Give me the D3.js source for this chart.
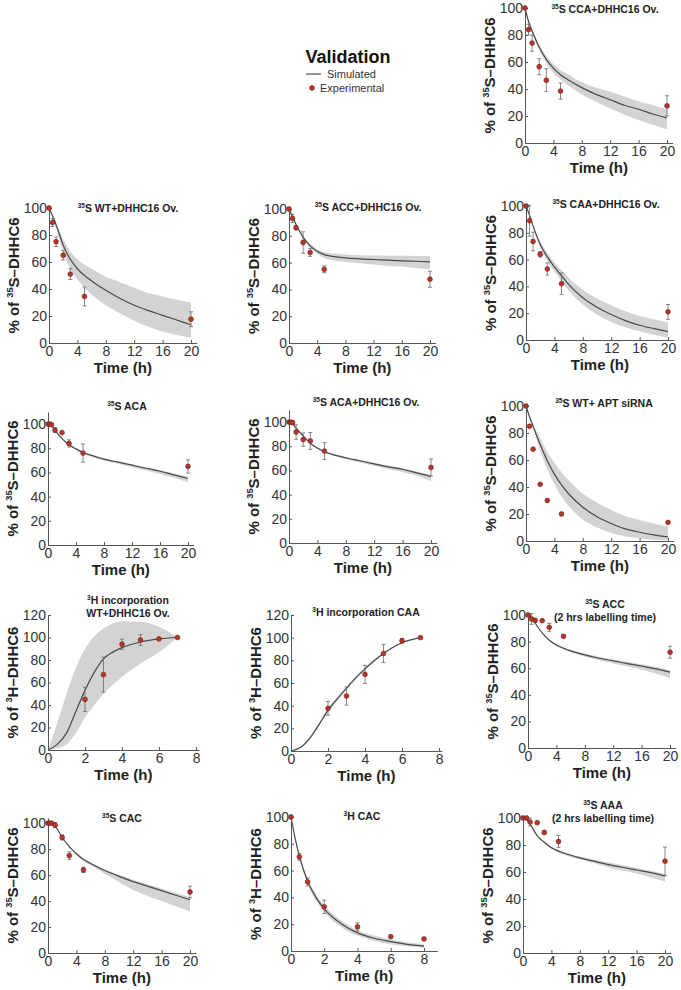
<!DOCTYPE html>
<html>
<head>
<meta charset="utf-8">
<script src="https://cdn.jsdelivr.net/npm/d3@7"></script>
<style>
  body { margin: 0; background: #fff; }
  svg { font-family: "Liberation Sans", Arial, Helvetica, sans-serif; }
</style>
</head>
<body>
<svg id="chart" width="681" height="990"></svg>
<script>
// ---- shared time grids ----
var simT20 = [0, 0.5, 1, 2, 3, 4, 5, 6, 8, 10, 12, 14, 16, 18, 20];
var expT7 = [0, 0.5, 1, 2, 3, 5, 20];
var expT8 = [0, 0.25, 0.5, 1, 2, 3, 5, 20];
var simT3H = [0, 0.5, 1, 1.5, 2, 2.5, 3, 3.5, 4, 5, 6, 7];
var expT3H = [2, 3, 4, 5, 6, 7];
var simT3Hc = [0, 0.25, 0.5, 1, 1.5, 2, 3, 4, 5, 6, 7, 8];
var expT3Hc = [0, 0.5, 1, 2, 4, 6, 8];

var xTicks20 = [0, 4, 8, 12, 16, 20];
var xTicks8 = [0, 2, 4, 6, 8];
var yTicks100 = [0, 20, 40, 60, 80, 100];
var yTicks120 = [0, 20, 40, 60, 80, 100, 120];

// ---- 35S CCA+DHHC16 Ov. ----
var ccaExp = [100, 84, 74, 56.5, 46.5, 38.5, 27.5];
var ccaErr = [0, 4, 6, 6, 8.5, 6, 7.5];
var ccaSim = [100, 90, 83, 71, 62, 55.5, 50.5, 47, 41, 36, 32, 28, 25, 21.5, 18.5];
var ccaLo  = [100, 89, 81.5, 69, 59, 52, 47, 43, 36, 30.5, 25.5, 21, 17, 13.5, 10];
var ccaHi  = [100, 91, 84.5, 73, 64.5, 58.5, 54, 51, 45, 41, 38, 34.5, 31, 28, 25];

// ---- 35S WT+DHHC16 Ov. ----
var wtExp = [100, 89.3, 75, 65, 51, 34.5, 17.6];
var wtErr = [0, 3, 3.5, 3.5, 4, 7, 5.5];
var wtSim = [100, 94, 87.5, 72.5, 62, 55, 50, 46, 39, 33, 28, 24, 20.5, 17, 13.5];
var wtLo  = [100, 93, 85, 67, 55, 47, 41, 36, 28, 22, 16.5, 12, 8.5, 6, 4];
var wtHi  = [100, 95, 89.5, 77, 68, 62, 58, 55, 49, 45, 41, 37, 34.5, 32, 30];

// ---- 35S ACC+DHHC16 Ov. ----
var accExp = [100, 93, 86, 75, 67.6, 55, 47.6];
var accErr = [0, 3, 1.5, 8, 3, 2.5, 6];
var accSim = [100, 94, 88.5, 79, 72.5, 68.5, 66, 64.8, 63.5, 62.8, 62.3, 61.8, 61.3, 61, 60.6];
var accLo  = [100, 93.5, 87.5, 78, 71, 66.5, 63.5, 62, 60.5, 59.5, 58.5, 57.5, 57, 56, 55];
var accHi  = [100, 94.5, 89.5, 80, 74, 70, 68, 67, 66, 65.5, 65.3, 65.2, 65.1, 65, 65];

// ---- 35S CAA+DHHC16 Ov. ----
var caaExp = [100, 89, 73.5, 64, 53, 42, 21];
var caaErr = [0, 11.5, 7, 2, 4.5, 8, 5.5];
var caaSim = [100, 93, 85, 71.5, 62, 54.5, 48, 41.5, 31.5, 24.5, 19, 14.5, 11, 8.5, 6.3];
var caaLo  = [100, 92.5, 84, 69, 59, 51, 44, 37, 26.5, 19, 13.5, 9.5, 6.5, 4, 2];
var caaHi  = [100, 93.5, 86, 73.5, 65, 58, 52, 46.5, 37.5, 31, 26, 21.5, 18, 15.5, 13];

// ---- 35S ACA ----
var acaExp = [100, 100, 99.5, 95, 93, 84, 76, 65];
var acaErr = [0, 0, 1, 2, 0, 3, 7.5, 5.5];
var acaSim = [100, 98.5, 95, 88, 83, 79.5, 76.5, 74.5, 71, 68.5, 66, 63.5, 61, 58, 55];
var acaLo  = [100, 98.3, 94.6, 87.5, 82.3, 78.7, 75.6, 73.5, 69.8, 67.1, 64.4, 61.6, 58.8, 55.6, 52];
var acaHi  = [100, 98.7, 95.3, 88.4, 83.4, 80, 77, 75, 71.6, 69.2, 66.8, 64.4, 62, 59.2, 56.5];

// ---- 35S ACA+DHHC16 Ov. ----
var acaOvExp = [100, 100, 99.5, 91.8, 85.5, 84.4, 76, 62.5];
var acaOvErr = [0, 0, 1.5, 6, 5.5, 7, 7, 7];
var acaOvSim = [100, 98.5, 95, 88.5, 82.5, 78.5, 75.5, 73.5, 70.5, 68, 65.5, 63, 61, 58, 55];
var acaOvLo  = [100, 98.3, 94.6, 88, 81.8, 77.7, 74.6, 72.5, 69.3, 66.6, 63.9, 61.1, 58.8, 55.6, 51];
var acaOvHi  = [100, 98.7, 95.3, 88.9, 82.9, 79, 76, 74, 71.1, 68.7, 66.3, 63.9, 62, 59.2, 56.5];

// ---- 35S WT+ APT siRNA ----
var aptExp = [100, 85, 68, 42, 30, 20, 13.8];
var aptErr = [0, 0, 0, 0, 0, 0, 0];
var aptSim = [100, 92, 85, 71.5, 59.5, 49.5, 41.5, 35, 25, 18, 13, 9, 6.5, 4.5, 3];
var aptLo  = [100, 91.5, 83.5, 67, 53, 42, 33, 26, 16, 10, 6, 3.5, 2, 1, 0.5];
var aptHi  = [100, 92.5, 86.5, 76, 66, 58, 51, 45, 35, 28.5, 23, 18.5, 15.5, 13, 11];

// ---- 3H incorporation WT+DHHC16 Ov. ----
var h3WtExp = [45, 67, 94, 97.8, 98.7, 100];
var h3WtErr = [10.8, 15.5, 4.5, 4.8, 0, 0];
var h3WtSim = [0, 5, 15, 34, 53, 69, 81, 87, 91, 96, 98.7, 100];
var h3WtLo  = [0, 1.5, 5, 15, 29, 40, 50, 58, 65, 77, 87, 100];
var h3WtHi  = [0, 24, 50, 73, 90, 101, 108, 112.5, 114.5, 114, 109.5, 100];

// ---- 3H incorporation CAA ----
var h3CaaExp = [37.6, 48.5, 67.6, 86, 97.3, 100];
var h3CaaErr = [6, 8, 8, 8, 2, 0];
var h3CaaSim = [0, 3, 11, 23, 36, 46, 55.5, 64.5, 72.5, 86, 95.5, 100];
var h3CaaLo  = [0, 2.5, 10, 21.5, 34.5, 44.5, 54, 63, 71, 85, 95, 100];
var h3CaaHi  = [0, 3.5, 12, 24.5, 37.5, 47.5, 57, 66, 74, 87, 96, 100];

// ---- 35S ACC (2 hrs labelling time) ----
var acc2Exp = [100, 97, 96, 95.7, 90.7, 84, 72];
var acc2Err = [0, 4, 1.5, 0, 3, 1, 4.5];
var acc2Sim = [100, 98, 94, 86.5, 81, 77.5, 75, 73, 70, 67.5, 65.5, 63.5, 61.5, 59.5, 57];
var acc2Lo  = [100, 97.8, 93.6, 86, 80.3, 76.7, 74.1, 72, 68.7, 66, 63.6, 61.2, 58.8, 56, 52.5];
var acc2Hi  = [100, 98.2, 94.4, 87, 81.6, 78.2, 75.8, 73.8, 71, 68.6, 66.8, 64.8, 63, 61, 58.5];

// ---- 35S CAC ----
var cacExp = [100, 100, 100, 98.5, 89, 75, 64, 47];
var cacErr = [0, 0, 0, 2, 2, 3, 2, 4.5];
var cacSim = [100, 99.5, 97.5, 89, 82, 76.5, 72, 69, 63.5, 59, 55, 51.5, 48, 44.5, 41];
var cacLo  = [100, 99.4, 97.2, 88.5, 81.3, 75.6, 70.9, 67.6, 61, 54.5, 48.5, 44, 40, 36, 32];
var cacHi  = [100, 99.6, 97.8, 89.4, 82.6, 77.2, 72.8, 69.8, 64.5, 60.3, 56.4, 53, 49.7, 46.4, 43];

// ---- 3H CAC ----
var h3CacExp = [100, 70.2, 51.6, 33, 18, 10.7, 9];
var h3CacErr = [0, 2.5, 3, 5, 3, 0, 0];
var h3CacSim = [100, 84, 71, 52, 40, 31.5, 20.5, 13.5, 9.5, 7, 5, 3.7];
var h3CacLo  = [100, 83, 69.5, 50, 37.5, 29, 18, 11.5, 7.5, 5, 3.5, 2.5];
var h3CacHi  = [100, 85, 72.5, 54, 42.5, 34, 23, 15.5, 11.5, 8.5, 6.5, 5];

// ---- 35S AAA (2 hrs labelling time) ----
var aaaExp = [100, 100, 97, 96.5, 89.3, 82.6, 68];
var aaaErr = [0, 0, 3, 0, 1.5, 4.5, 10.5];
var aaaSim = [100, 99, 95.5, 87, 82, 78, 75.5, 73.5, 70.5, 68, 65.5, 63.5, 61.5, 59.5, 57];
var aaaLo  = [100, 98.8, 95.1, 86.5, 81.3, 77.2, 74.6, 72.5, 69.2, 66.5, 63.6, 61.2, 58.8, 56, 53];
var aaaHi  = [100, 99.2, 95.9, 87.5, 82.6, 78.7, 76.3, 74.4, 71.4, 69.2, 67, 65, 63, 61, 58.5];

// panel table: data refs + where each panel sits on the page
var panels = [
  { title: [["35", "S CCA+DHHC16 Ov."]], iso: ["35", "S"],
    expT: expT7, exp: ccaExp, err: ccaErr, simT: simT20, sim: ccaSim, lo: ccaLo, hi: ccaHi,
    xMax: 20.8, xTicks: xTicks20, yMax: 100, yTicks: yTicks100,
    left: 525, right: 672.7, bottom: 143, top: 8, tx: 605, ty: 13 },
  { title: [["35", "S WT+DHHC16 Ov."]], iso: ["35", "S"],
    expT: expT7, exp: wtExp, err: wtErr, simT: simT20, sim: wtSim, lo: wtLo, hi: wtHi,
    xMax: 20.8, xTicks: xTicks20, yMax: 100, yTicks: yTicks100,
    left: 49, right: 196.7, bottom: 343, top: 208, tx: 128, ty: 212 },
  { title: [["35", "S ACC+DHHC16 Ov."]], iso: ["35", "S"],
    expT: expT7, exp: accExp, err: accErr, simT: simT20, sim: accSim, lo: accLo, hi: accHi,
    xMax: 20.8, xTicks: xTicks20, yMax: 100, yTicks: yTicks100,
    left: 289, right: 435.6, bottom: 343, top: 209, tx: 368, ty: 211 },
  { title: [["35", "S CAA+DHHC16 Ov."]], iso: ["35", "S"],
    expT: expT7, exp: caaExp, err: caaErr, simT: simT20, sim: caaSim, lo: caaLo, hi: caaHi,
    xMax: 20.8, xTicks: xTicks20, yMax: 100, yTicks: yTicks100,
    left: 526, right: 673.7, bottom: 340, top: 206, tx: 606, ty: 208 },
  { title: [["35", "S ACA"]], iso: ["35", "S"],
    expT: expT8, exp: acaExp, err: acaErr, simT: simT20, sim: acaSim, lo: acaLo, hi: acaHi,
    xMax: 20.8, xTicks: xTicks20, yMax: 110, yTicks: yTicks100,
    left: 48, right: 193.6, bottom: 545, top: 412, tx: 127, ty: 410 },
  { title: [["35", "S ACA+DHHC16 Ov."]], iso: ["35", "S"],
    expT: expT8, exp: acaOvExp, err: acaOvErr, simT: simT20, sim: acaOvSim, lo: acaOvLo, hi: acaOvHi,
    xMax: 20.8, xTicks: xTicks20, yMax: 110, yTicks: yTicks100,
    left: 289, right: 436.7, bottom: 543, top: 410, tx: 366, ty: 406 },
  { title: [["35", "S WT+ APT siRNA"]], iso: ["35", "S"],
    expT: expT7, exp: aptExp, err: aptErr, simT: simT20, sim: aptSim, lo: aptLo, hi: aptHi,
    xMax: 20.8, xTicks: xTicks20, yMax: 100, yTicks: yTicks100,
    left: 526, right: 673.7, bottom: 541, top: 406, tx: 604, ty: 407 },
  { title: [["3", "H incorporation"], ["", "WT+DHHC16 Ov."]], iso: ["3", "H"],
    expT: expT3H, exp: h3WtExp, err: h3WtErr, simT: simT3H, sim: h3WtSim, lo: h3WtLo, hi: h3WtHi,
    xMax: 8.15, xTicks: xTicks8, yMax: 120, yTicks: yTicks120,
    left: 48, right: 198.8, bottom: 750, top: 615, tx: 128, ty: 604 },
  { title: [["3", "H incorporation CAA"]], iso: ["3", "H"],
    expT: expT3H, exp: h3CaaExp, err: h3CaaErr, simT: simT3H, sim: h3CaaSim, lo: h3CaaLo, hi: h3CaaHi,
    xMax: 8.15, xTicks: xTicks8, yMax: 120, yTicks: yTicks120,
    left: 291, right: 441.8, bottom: 751, top: 615, tx: 366, ty: 616 },
  { title: [["35", "S ACC"], ["", "(2 hrs labelling time)"]], iso: ["35", "S"],
    expT: expT7, exp: acc2Exp, err: acc2Err, simT: simT20, sim: acc2Sim, lo: acc2Lo, hi: acc2Hi,
    xMax: 20.8, xTicks: xTicks20, yMax: 100, yTicks: yTicks100,
    left: 528, right: 675.7, bottom: 748, top: 615, tx: 605, ty: 608 },
  { title: [["35", "S CAC"]], iso: ["35", "S"],
    expT: expT8, exp: cacExp, err: cacErr, simT: simT20, sim: cacSim, lo: cacLo, hi: cacHi,
    xMax: 20.8, xTicks: xTicks20, yMax: 104, yTicks: yTicks100,
    left: 48, right: 195.7, bottom: 953, top: 818, tx: 122, ty: 822 },
  { title: [["3", "H CAC"]], iso: ["3", "H"],
    expT: expT3Hc, exp: h3CacExp, err: h3CacErr, simT: simT3Hc, sim: h3CacSim, lo: h3CacLo, hi: h3CacHi,
    xMax: 8.8, xTicks: xTicks8, yMax: 100, yTicks: yTicks100,
    left: 291, right: 437.3, bottom: 951, top: 817, tx: 362, ty: 820 },
  { title: [["35", "S AAA"], ["", "(2 hrs labelling time)"]], iso: ["35", "S"],
    expT: expT7, exp: aaaExp, err: aaaErr, simT: simT20, sim: aaaSim, lo: aaaLo, hi: aaaHi,
    xMax: 20.8, xTicks: xTicks20, yMax: 100, yTicks: yTicks100,
    left: 523, right: 670.7, bottom: 953, top: 818, tx: 603, ty: 809 }
];

var FONT = '"Liberation Sans", Arial, Helvetica, sans-serif';
var svg = d3.select("#chart");

// text with a small raised prefix (isotope mass numbers)
function supText(sel, sup, rest, size) {
  if (sup) {
    sel.append("tspan").attr("font-size", size * 0.62).attr("dy", -size * 0.38).text(sup);
    sel.append("tspan").attr("dy", size * 0.38).text(rest);
  } else {
    sel.append("tspan").text(rest);
  }
}

function drawPanel(p) {
  var g = svg.append("g");
  var x = d3.scaleLinear().domain([0, p.xMax]).range([p.left, p.right]);
  var y = d3.scaleLinear().domain([0, p.yMax]).range([p.bottom, p.top]);

  var simRows = p.simT.map((t, i) => ({ t: t, v: p.sim[i], lo: p.lo[i], hi: p.hi[i] }));
  var expRows = p.expT.map((t, i) => ({ t: t, v: p.exp[i], e: p.err[i] }));

  // simulated band + mean
  g.append("path").datum(simRows)
    .attr("d", d3.area().x(d => x(d.t)).y0(d => y(d.lo)).y1(d => y(d.hi)).curve(d3.curveMonotoneX))
    .attr("fill", "#d3d3d3");
  g.append("path").datum(simRows)
    .attr("d", d3.line().x(d => x(d.t)).y(d => y(d.v)).curve(d3.curveMonotoneX))
    .attr("fill", "none").attr("stroke", "#4a4a4a").attr("stroke-width", 1.2);

  // axes
  var xa = g.append("g").attr("transform", `translate(0,${p.bottom})`)
    .call(d3.axisBottom(x).tickValues(p.xTicks).tickSizeInner(-3).tickSizeOuter(0).tickPadding(3));
  var ya = g.append("g").attr("transform", `translate(${p.left},0)`)
    .call(d3.axisLeft(y).tickValues(p.yTicks).tickSizeInner(-3).tickSizeOuter(0).tickPadding(2));
  [xa, ya].forEach(a => {
    a.attr("font-family", FONT).attr("font-size", 14);
    a.select(".domain").attr("stroke", "#555");
    a.selectAll(".tick line").attr("stroke", "#555");
    a.selectAll(".tick text").attr("fill", "#333");
  });

  // experimental error bars + points
  var eb = g.append("g").attr("stroke", "#6a6a6a").attr("stroke-width", 0.8);
  expRows.filter(d => d.e > 0).forEach(d => {
    var cx = x(d.t);
    eb.append("line").attr("x1", cx).attr("x2", cx).attr("y1", y(d.v - d.e)).attr("y2", y(d.v + d.e));
    eb.append("line").attr("x1", cx - 2).attr("x2", cx + 2).attr("y1", y(d.v - d.e)).attr("y2", y(d.v - d.e));
    eb.append("line").attr("x1", cx - 2).attr("x2", cx + 2).attr("y1", y(d.v + d.e)).attr("y2", y(d.v + d.e));
  });
  g.selectAll("circle.exp").data(expRows).enter().append("circle")
    .attr("class", "exp")
    .attr("cx", d => x(d.t)).attr("cy", d => y(d.v)).attr("r", 2.4)
    .attr("fill", "#b8352b").attr("stroke", "#6e1a14").attr("stroke-width", 0.6);

  // panel title
  p.title.forEach((ln, i) => {
    var t = g.append("text").attr("x", p.tx).attr("y", p.ty + i * 12.5)
      .attr("text-anchor", "middle").attr("font-size", 10.5).attr("font-weight", "bold").attr("fill", "#222");
    supText(t, ln[0], ln[1], 10.5);
  });

  // axis titles
  g.append("text").attr("x", (p.left + p.right) / 2).attr("y", p.bottom + 30)
    .attr("text-anchor", "middle").attr("font-size", 15).attr("font-weight", "bold").attr("fill", "#222")
    .text("Time (h)");
  var yl = g.append("text")
    .attr("transform", `translate(${p.left - 30},${(p.top + p.bottom) / 2}) rotate(-90)`)
    .attr("text-anchor", "middle").attr("font-size", 15).attr("font-weight", "bold").attr("fill", "#222");
  yl.append("tspan").text("% of ");
  supText(yl, p.iso[0], p.iso[1] + "\u2013DHHC6", 15);
}

panels.forEach(drawPanel);

// legend
var leg = svg.append("g");
leg.append("text").attr("x", 348).attr("y", 63).attr("text-anchor", "middle")
  .attr("font-size", 18).attr("font-weight", "bold").attr("fill", "#111").text("Validation");
leg.append("line").attr("x1", 306).attr("x2", 321).attr("y1", 74).attr("y2", 74)
  .attr("stroke", "#4a4a4a").attr("stroke-width", 1.2);
leg.append("text").attr("x", 327).attr("y", 78).attr("font-size", 11).attr("fill", "#333").text("Simulated");
leg.append("circle").attr("cx", 312).attr("cy", 88).attr("r", 2.4)
  .attr("fill", "#b8352b").attr("stroke", "#6e1a14").attr("stroke-width", 0.6);
leg.append("text").attr("x", 320).attr("y", 92).attr("font-size", 11).attr("fill", "#333").text("Experimental");
</script>
</body>
</html>
